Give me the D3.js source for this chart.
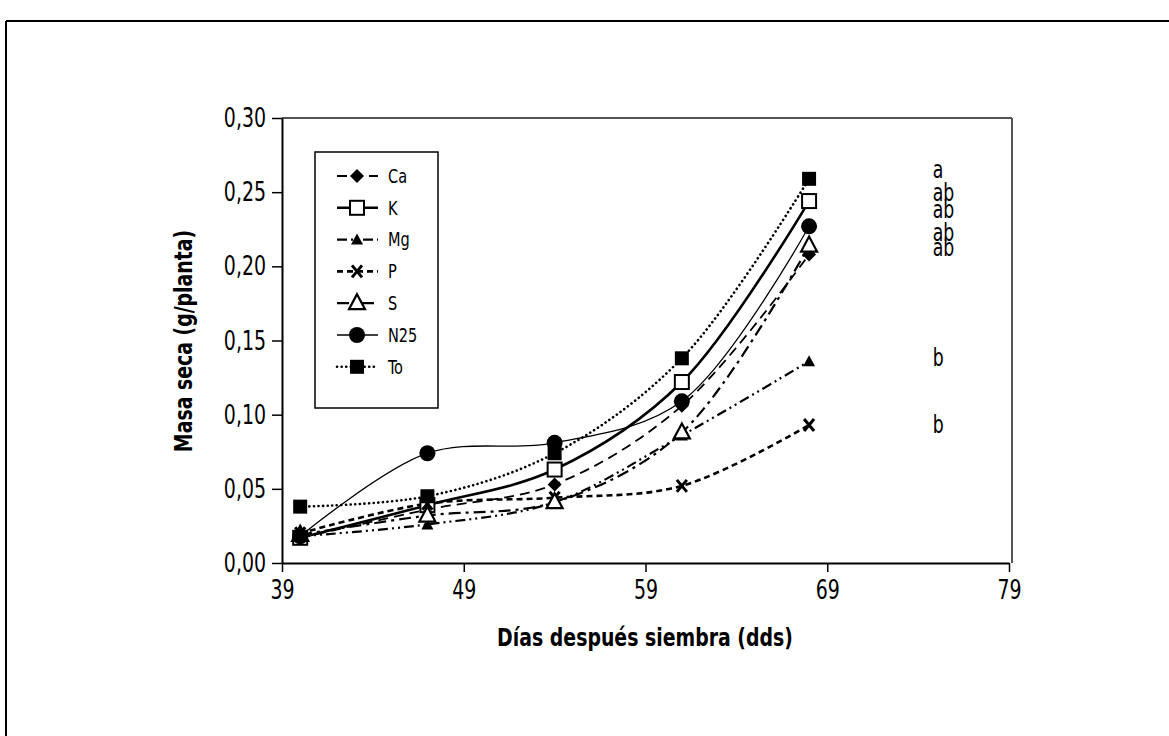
<html>
<head>
<style>
body { margin: 0; background: #fff; }
text { font-family: "Liberation Sans Narrow", "DejaVu Sans Condensed", "Arial Narrow", sans-serif; }
</style>
<script src="https://d3js.org/d3.v7.min.js"></script>
</head>
<body>
<div id="chart"></div>
<script>
// values
var days = [40, 47, 54, 61, 68];
var ca  = [0.017, 0.036, 0.053, 0.106, 0.208];
var k   = [0.017, 0.039, 0.063, 0.122, 0.244];
var mg  = [0.018, 0.026, 0.041, 0.086, 0.136];
var p   = [0.020, 0.040, 0.044, 0.052, 0.093];
var s   = [0.019, 0.032, 0.041, 0.088, 0.214];
var n25 = [0.018, 0.074, 0.081, 0.109, 0.227];
var to  = [0.038, 0.045, 0.074, 0.138, 0.259];

var seriesNames = ["Ca", "K", "Mg", "P", "S", "N25", "To"];
var seriesValues = [ca, k, mg, p, s, n25, to];

var xTicks = [39, 49, 59, 69, 79];
var yTicks = [0, 0.05, 0.10, 0.15, 0.20, 0.25, 0.30];

// significance letters and the level they sit at
var letters = ["a", "ab", "ab", "ab", "ab", "b", "b"];
var letterY = [0.2597, 0.2439, 0.2329, 0.2169, 0.2067, 0.1327, 0.0879];
var letterX = 74.8;

// line / marker styles per series
var styles = {
  Ca:  {w: 1.8, dash: "10,6", cap: "butt", marker: "diamond"},
  K:   {w: 2.6, dash: null, cap: "butt", marker: "squareOpen"},
  Mg:  {w: 2.2, dash: "10,4,2,4,2,4", cap: "butt", marker: "triangle"},
  P:   {w: 2.6, dash: "6,4", cap: "butt", marker: "cross"},
  S:   {w: 2.2, dash: "12,5,3,5", cap: "butt", marker: "triangleOpen"},
  N25: {w: 1.3, dash: null, cap: "butt", marker: "circle"},
  To:  {w: 2.6, dash: "0.1,4.5", cap: "round", marker: "square"}
};

var W = 1169, H = 736;
var SX = 0.8; // the original font is a narrow one
var svg = d3.select("#chart").append("svg").attr("width", W).attr("height", H);

// squeeze text horizontally to look like a condensed face
function squeeze(sel, sx) {
  sel.each(function() {
    var t = d3.select(this);
    var x0 = +t.attr("x") || 0;
    t.attr("x", x0 / sx).attr("transform", "scale(" + sx + ",1)");
  });
}

// outer frame (left and top edges)
svg.append("line").attr("x1", 6).attr("x2", 6).attr("y1", 21).attr("y2", H).attr("stroke", "#000").attr("stroke-width", 2);
svg.append("line").attr("x1", 6).attr("x2", W).attr("y1", 21).attr("y2", 21).attr("stroke", "#000").attr("stroke-width", 2);

var x = d3.scaleLinear().domain([39, 79]).range([282, 1009]);
var y = d3.scaleLinear().domain([0, 0.30]).range([563, 118]);

// plot box top / right
svg.append("line").attr("x1", 282).attr("x2", 1012).attr("y1", 118).attr("y2", 118).attr("stroke", "#555").attr("stroke-width", 2);
svg.append("line").attr("x1", 1012).attr("x2", 1012).attr("y1", 118).attr("y2", 563).attr("stroke", "#555").attr("stroke-width", 2);

var comma = function(d) { return d3.format(".2f")(d).replace(".", ","); };

var gx = svg.append("g").attr("transform", "translate(0,563)")
  .call(d3.axisBottom(x).tickValues(xTicks).tickSize(9).tickPadding(8).tickSizeOuter(0));
var gy = svg.append("g").attr("transform", "translate(282,0)")
  .call(d3.axisLeft(y).tickValues(yTicks).tickFormat(comma).tickSize(10).tickPadding(6).tickSizeOuter(0));
[gx, gy].forEach(function(g) {
  g.select(".domain").attr("stroke-width", 2);
  g.selectAll(".tick line").attr("stroke-width", 1.5);
  g.selectAll("text").attr("font-size", "27px").attr("fill", "#000")
    .style("font-family", "'Liberation Sans Narrow', 'DejaVu Sans Condensed', sans-serif");
  squeeze(g.selectAll("text"), 0.78);
});

// axis titles
svg.append("text")
  .attr("transform", "translate(645,646) scale(0.84,1)")
  .attr("text-anchor", "middle").attr("font-size", "25px").attr("font-weight", "bold")
  .text("Días después siembra (dds)");
svg.append("text")
  .attr("transform", "translate(192,341) rotate(-90) scale(0.84,1)")
  .attr("text-anchor", "middle").attr("font-size", "25px").attr("font-weight", "bold")
  .text("Masa seca (g/planta)");

// markers
function drawMarker(g, type, cx, cy) {
  var tr = "translate(" + cx + "," + cy + ")";
  if (type === "diamond") {
    g.append("path").attr("d", "M0,-7L7,0L0,7L-7,0Z").attr("transform", tr).attr("fill", "#000");
  } else if (type === "squareOpen") {
    g.append("rect").attr("x", cx - 7).attr("y", cy - 7).attr("width", 14).attr("height", 14)
      .attr("fill", "#fff").attr("stroke", "#000").attr("stroke-width", 2);
  } else if (type === "triangle") {
    g.append("path").attr("d", "M0,-6L6,5L-6,5Z").attr("transform", tr).attr("fill", "#000");
  } else if (type === "cross") {
    g.append("path").attr("d", "M-5,-6L5,6M5,-6L-5,6")
      .attr("transform", tr).attr("stroke", "#000").attr("stroke-width", 3).attr("fill", "none");
  } else if (type === "triangleOpen") {
    g.append("path").attr("d", "M0,-9L8,6L-8,6Z")
      .attr("transform", tr).attr("fill", "#fff").attr("stroke", "#000").attr("stroke-width", 2.2);
  } else if (type === "circle") {
    g.append("circle").attr("cx", cx).attr("cy", cy).attr("r", 8).attr("fill", "#000");
  } else if (type === "square") {
    g.append("rect").attr("x", cx - 7).attr("y", cy - 7).attr("width", 14).attr("height", 14).attr("fill", "#000");
  }
}

var line = d3.line()
  .x(function(d, i) { return x(days[i]); })
  .y(function(d) { return y(d); })
  .curve(d3.curveCatmullRom.alpha(0.5));

var plot = svg.append("g");
seriesNames.forEach(function(name, si) {
  var st = styles[name];
  plot.append("path")
    .attr("d", line(seriesValues[si]))
    .attr("fill", "none").attr("stroke", "#000")
    .attr("stroke-width", st.w)
    .attr("stroke-dasharray", st.dash)
    .attr("stroke-linecap", st.cap);
});
seriesNames.forEach(function(name, si) {
  seriesValues[si].forEach(function(v, i) {
    drawMarker(plot, styles[name].marker, x(days[i]), y(v));
  });
});

// letters on the right
letters.forEach(function(l, i) {
  svg.append("text")
    .attr("transform", "translate(" + x(letterX) + "," + y(letterY[i]) + ") scale(" + SX + ",1)")
    .attr("font-size", "24px").text(l);
});

// legend
var lg = svg.append("g");
lg.append("rect").attr("x", 315).attr("y", 152).attr("width", 123).attr("height", 256)
  .attr("fill", "#fff").attr("stroke", "#000").attr("stroke-width", 1.5);
seriesNames.forEach(function(name, i) {
  var st = styles[name];
  var ly = 176 + i * 31.8;
  lg.append("line").attr("x1", 337).attr("x2", 378).attr("y1", ly).attr("y2", ly)
    .attr("stroke", "#000").attr("stroke-width", st.w)
    .attr("stroke-dasharray", st.dash).attr("stroke-linecap", st.cap);
  drawMarker(lg, st.marker, 357, ly);
  lg.append("text")
    .attr("transform", "translate(388," + ly + ") scale(0.85,1)")
    .attr("dy", "0.36em").attr("font-size", "19px").text(name);
});
</script>
</body>
</html>
